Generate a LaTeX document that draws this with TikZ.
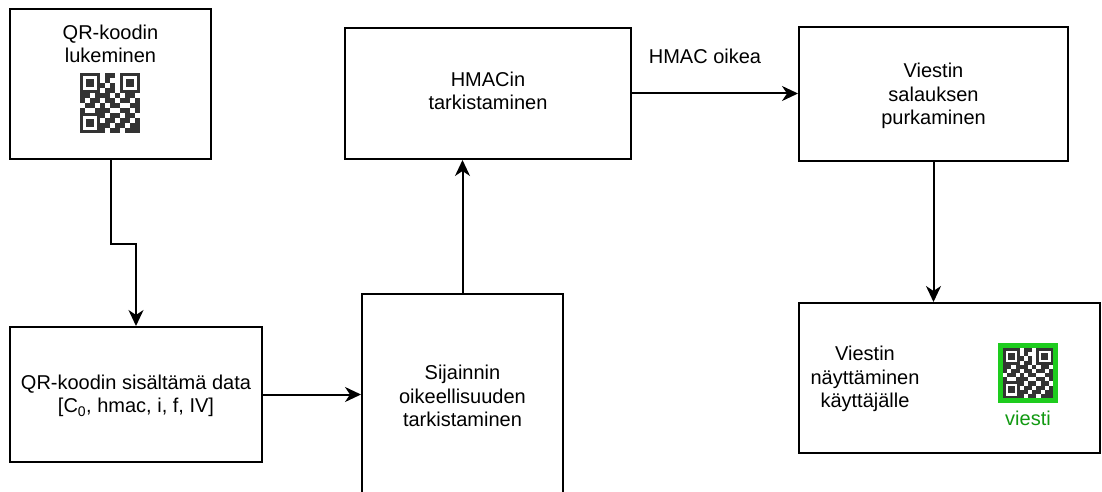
\documentclass[tikz,border=0pt]{standalone}
\usepackage{fontspec}
\setmainfont{Liberation Sans}
\usetikzlibrary{arrows.meta}
\definecolor{qrdark}{HTML}{333333}
\definecolor{qrgreen}{HTML}{1ECC1E}
\definecolor{txtgreen}{HTML}{119911}
\tikzset{
  box/.style={draw=black, line width=2pt, fill=white, inner sep=0pt},
  lbl/.style={align=center, inner sep=0pt, font=\fontsize{20}{23.5}\selectfont},
  arr/.style={draw=black, line width=2pt, -{Stealth[length=16pt,width=15pt,inset=5pt]}},
  qrcode/.pic={
    \fill[qrdark] (0,0) rectangle (20,20);
    \fill[white] (3,3) rectangle (17,17);
    \fill[qrdark] (6,6) rectangle (14,14);
    \fill[qrdark] (40,0) rectangle (60,20);
    \fill[white] (43,3) rectangle (57,17);
    \fill[qrdark] (46,6) rectangle (54,14);
    \fill[qrdark] (0,40) rectangle (20,60);
    \fill[white] (3,43) rectangle (17,57);
    \fill[qrdark] (6,46) rectangle (14,54);
    \foreach \c/\r in {5/0,6/0,5/1,4/2,6/2,5/3,6/3,
      0/4,1/4,3/4,4/4,5/4,7/4,9/4,10/4,
      0/5,2/5,3/5,5/5,6/5,8/5,9/5,11/5,
      1/6,2/6,4/6,6/6,7/6,10/6,11/6,
      0/7,3/7,4/7,5/7,8/7,9/7,11/7,
      4/8,6/8,7/8,9/8,10/8,
      5/9,6/9,8/9,9/9,11/9,
      4/10,5/10,7/10,8/10,10/10,11/10,
      4/11,6/11,7/11,9/11,10/11,11/11}
      \fill[qrdark] (5*\c,5*\r) rectangle (5*\c+5,5*\r+5);
  }
}
\begin{document}
\begin{tikzpicture}[x=1pt,y=-1pt]
\useasboundingbox (0,0) rectangle (1102,492);

% boxes
\node[box, minimum width=201pt, minimum height=150pt] (b1) at (110.5,84) {};
\node[box, minimum width=252pt, minimum height=135pt] (b2) at (136,394.5) {};
\node[box, minimum width=201pt, minimum height=204pt] (b3) at (462.5,396) {};
\node[box, minimum width=286pt, minimum height=131pt] (b4) at (488,93.5) {};
\node[box, minimum width=269pt, minimum height=134pt] (b5) at (933.5,94) {};
\node[box, minimum width=301pt, minimum height=150pt] (b6) at (949.5,378) {};

% texts
\node[lbl] (t1) at (110.5,44) {QR-koodin\\lukeminen};
\pic at (80,73) {qrcode};
\node[lbl] (t2) at (136,396) {QR-koodin sisältämä data\\{}[C\textsubscript{0}, hmac, i, f, IV]};
\node[lbl] (t3) at (462.5,396) {Sijainnin\\oikeellisuuden\\tarkistaminen};
\node[lbl] (t4) at (488,91) {HMACin\\tarkistaminen};
\node[lbl] (t5) at (933.5,96) {Viestin\\salauksen\\purkaminen};
\node[lbl] (t6) at (865,379) {Viestin\\näyttäminen\\käyttäjälle};
\fill[qrgreen] (998,343) rectangle (1058,403);
\fill[white] (1003,348) rectangle (1053,398);
\pic[scale=0.8333] at (1003,348) {qrcode};
\node[lbl, text=txtgreen] (t7) at (1028,418) {viesti};

% connectors
\draw[arr] (b1.south) -- ++(0,84) -| (b2.north);
\draw[arr] (b2.east) -- (b2.east -| b3.west);
\draw[arr] (b3.north) -- (b3.north |- b4.south);
\draw[arr] (b4.east) -- (b4.east -| b5.west);
\node[lbl] (hl) at (705,56) {HMAC oikea};
\draw[arr] (b5.south) -- (b5.south |- b6.north);
\end{tikzpicture}
\end{document}
